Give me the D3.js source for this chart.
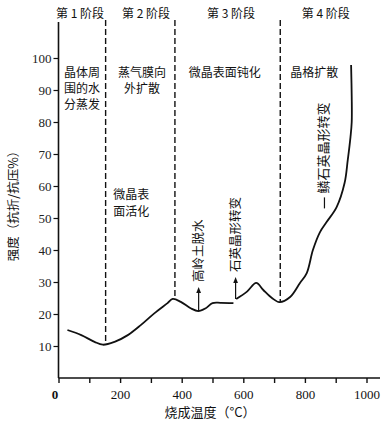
<!DOCTYPE html>
<html><head><meta charset="utf-8">
<script src="https://cdn.jsdelivr.net/npm/d3@7"></script>
<style>body{margin:0;background:#fff}</style>
</head><body>
<svg id="c" width="391" height="423"></svg>
<script>
// ---- data ----
const xTickValues = [0,100,200,300,400,500,600,700,800,900,1000];
const xTickLabels = ["0","","200","","400","","600","","800","","1000"];
const yTickValues = [10,20,30,40,50,60,70,80,90,100];
const seg1Temp = [29,74,117,144,182,225,268,311,354,371,397,429,454,478,500,526,568];
const seg1Val  = [15.0,13.4,11.3,10.4,11.3,13.4,16.6,20.2,23.4,24.7,23.8,21.8,20.9,21.8,23.4,23.5,23.4];
const seg2Temp = [577,612,642,665,693,717,752,784,806,826,849,871,903,929,939,948,952,952,950];
const seg2Val  = [24.7,27.0,29.7,27.5,25.0,23.7,25.3,29.7,32.8,40.0,45.6,48.8,53.4,61.0,68.0,75.3,80.0,88.0,97.8];
const stageBounds = [153,378,720];
const stageBoundVals = [10.4,24.7,23.7];
const stageNames = ["第 1 阶段","第 2 阶段","第 3 阶段","第 4 阶段"];
const stageCenters = [70,284,560,868];
const stageNotes = [["晶体周","围的水","分蒸发"],["蒸气膜向","外扩散"],["微晶表面钝化"],["晶格扩散"]];
const noteCenters = [76,271,540,830];
const subNote = ["微晶表","面活化"];
const arrows = [{t:455, v0:20.9, v1:27.5, label:"高岭土脱水"},{t:575, v0:24.7, v1:30.6, label:"石英晶形转变"}];
const tridymite = {t:870, v:53, label:"鳞石英晶形转变"};
const yLabel = "强度（抗折/抗压%）";
const xLabel = "烧成温度（°C）";

// ---- draw ----
const svg = d3.select("#c");
const x = d3.scaleLinear().domain([0,1000]).range([58.5,366.5]);
const y = d3.scaleLinear().domain([0,100]).range([378,58]);
const serif = "'Liberation Serif','DejaVu Serif',serif";
const cjk = "'Noto Sans CJK SC','Noto Sans CJK JP',sans-serif";

// axes lines
svg.append("line").attr("x1",x(0)).attr("x2",380).attr("y1",y(0)).attr("y2",y(0))
  .attr("stroke","#111").attr("stroke-width",1.6);
svg.append("line").attr("x1",x(0)).attr("x2",x(0)).attr("y1",22).attr("y2",y(0))
  .attr("stroke","#111").attr("stroke-width",1.6);

const xa = svg.append("g").attr("transform",`translate(0,${y(0)})`)
  .call(d3.axisBottom(x).tickValues(xTickValues).tickSize(5).tickPadding(7)
    .tickFormat((d,i)=>xTickLabels[i]));
xa.select(".domain").remove();
xa.selectAll("line").attr("stroke","#111").attr("stroke-width",1.4);
xa.selectAll("text").attr("font-family",serif).attr("font-size",13).attr("fill","#111");
xa.selectAll(".tick").filter(d=>d===0).select("text").attr("dx",-4).attr("font-weight","bold");

const ya = svg.append("g").attr("transform",`translate(${x(0)},0)`)
  .call(d3.axisLeft(y).tickValues(yTickValues).tickSize(5).tickPadding(2));
ya.select(".domain").remove();
ya.selectAll("line").attr("stroke","#111").attr("stroke-width",1.2);
ya.selectAll("text").attr("font-family",serif).attr("font-size",13).attr("fill","#222");

// dashed stage boundaries
stageBounds.forEach((t,i)=>{
  svg.append("line").attr("x1",x(t)).attr("x2",x(t)).attr("y1",20).attr("y2",y(stageBoundVals[i]))
    .attr("stroke","#111").attr("stroke-width",1.4).attr("stroke-dasharray","6,3");
});

// curve
const line = d3.line().x(d=>x(d[0])).y(d=>y(d[1])).curve(d3.curveCatmullRom.alpha(0.5));
svg.append("path").datum(seg1Temp.map((t,i)=>[t,seg1Val[i]])).attr("d",line)
  .attr("fill","none").attr("stroke","#111").attr("stroke-width",1.8);
svg.append("path").datum(seg2Temp.map((t,i)=>[t,seg2Val[i]])).attr("d",line)
  .attr("fill","none").attr("stroke","#111").attr("stroke-width",1.8);

// stage headers
stageNames.forEach((s,i)=>{
  svg.append("text").attr("x",x(stageCenters[i])).attr("y",18).attr("text-anchor","middle")
    .attr("font-family",cjk).attr("font-size",12).attr("fill","#111").text(s);
});
// stage notes
stageNotes.forEach((lines,i)=>{
  lines.forEach((l,j)=>{
    svg.append("text").attr("x",x(noteCenters[i])).attr("y",y(94)+j*16)
      .attr("text-anchor","middle").attr("font-family",cjk).attr("font-size",12)
      .attr("fill","#111").text(l);
  });
});
subNote.forEach((l,j)=>{
  svg.append("text").attr("x",x(236)).attr("y",y(56)+j*17)
    .attr("text-anchor","middle").attr("font-family",cjk).attr("font-size",12)
    .attr("fill","#111").text(l);
});

// arrows
svg.append("defs").append("marker").attr("id","ah").attr("viewBox","0 0 10 10")
  .attr("refX",5).attr("refY",5).attr("markerWidth",5).attr("markerHeight",7).attr("orient","auto")
  .append("path").attr("d","M0,1 L10,5 L0,9 z").attr("fill","#111");
arrows.forEach(a=>{
  svg.append("line").attr("x1",x(a.t)).attr("x2",x(a.t)).attr("y1",y(a.v0)).attr("y2",y(a.v1))
    .attr("stroke","#111").attr("stroke-width",1.2).attr("marker-end","url(#ah)");
  svg.append("text").attr("transform",`translate(${x(a.t)+4},${y(a.v1)-8}) rotate(-90)`)
    .attr("text-anchor","start").attr("font-family",cjk).attr("font-size",12.5)
    .attr("fill","#111").text(a.label);
});
// tridymite label
svg.append("line").attr("x1",x(tridymite.t)-2).attr("x2",x(tridymite.t)-2)
  .attr("y1",y(tridymite.v)).attr("y2",y(tridymite.v)-11).attr("stroke","#111").attr("stroke-width",1.2);
svg.append("text").attr("transform",`translate(${x(tridymite.t)+2},${y(tridymite.v)-15}) rotate(-90)`)
  .attr("text-anchor","start").attr("font-family",cjk).attr("font-size",13)
  .attr("fill","#111").text(tridymite.label);

// axis titles
svg.append("text").attr("transform","translate(18,203) rotate(-90)").attr("text-anchor","middle")
  .attr("font-family",cjk).attr("font-size",12.5).attr("fill","#111").text(yLabel);
svg.append("text").attr("x",210).attr("y",417).attr("text-anchor","middle")
  .attr("font-family",cjk).attr("font-size",13).attr("fill","#111").text(xLabel);
</script>
</body></html>
